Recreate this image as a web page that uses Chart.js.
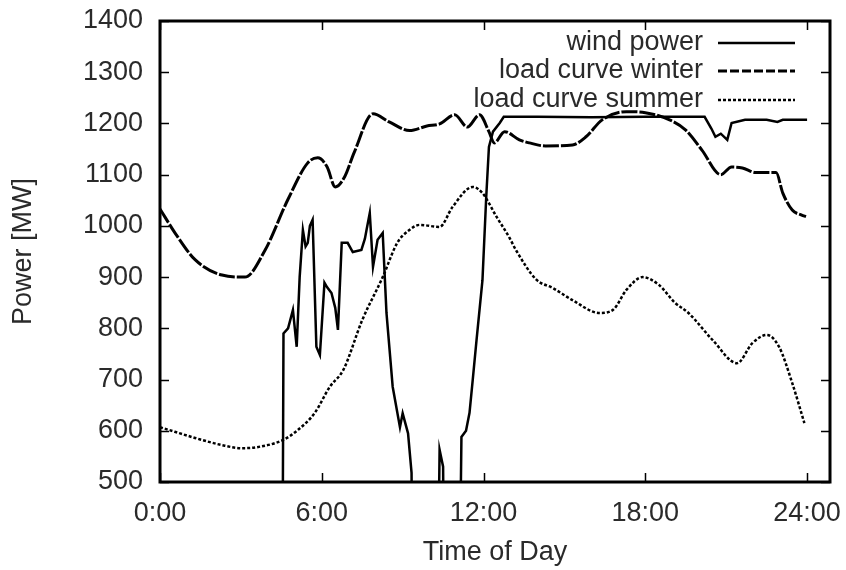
<!DOCTYPE html>
<html><head><meta charset="utf-8">
<script src="https://cdn.jsdelivr.net/npm/chart.js@4"></script>
<style>html,body{margin:0;padding:0;background:#fff;}</style>
</head><body>
<canvas id="c" width="846" height="570"></canvas>
<script>
// ---- data ----
const seriesLabels = ['wind power', 'load curve winter', 'load curve summer'];
const xTickValues = [0, 6, 12, 18, 24];
const xTickLabels = ['0:00', '6:00', '12:00', '18:00', '24:00'];
const yTickValues = [500, 600, 700, 800, 900, 1000, 1100, 1200, 1300, 1400];

const windHours = [0, 4.52, 4.58, 4.75, 4.93, 5.07, 5.18, 5.3, 5.4, 5.48, 5.56, 5.66, 5.8, 5.93, 6.1, 6.2, 6.36, 6.5, 6.6, 6.74, 6.96, 7.15, 7.47, 7.6, 7.66, 7.78, 7.9, 8.07, 8.26, 8.4, 8.63, 8.9, 9.0, 9.2, 9.33, 9.4, 10.24, 10.37, 10.5, 10.58, 11.05, 11.18, 11.35, 11.48, 11.6, 11.74, 11.96, 12.1, 12.2, 12.35, 12.6, 12.75, 14.0, 16.0, 18.0, 20.2, 20.45, 20.6, 20.8, 21.04, 21.2, 21.7, 22.5, 22.9, 23.1, 24.0];
const windMW    = [0, 0, 790, 800, 836, 764, 900, 992, 960, 967, 1000, 1012, 764, 748, 889, 880, 869, 840, 797, 967, 967, 949, 953, 975, 992, 1025, 920, 973, 986, 830, 686, 607, 634, 595, 518, 0, 0, 563, 530, 0, 0, 588, 600, 635, 700, 777, 894, 1057, 1154, 1184, 1201, 1213, 1213, 1212, 1213, 1213, 1190, 1174, 1180, 1168, 1201, 1207, 1207, 1203, 1207, 1207];

const winterHours = [0, 0.56, 1.3, 2.3, 3.15, 3.9, 4.74, 5.48, 5.85, 6.2, 6.5, 6.85, 7.2, 7.9, 8.5, 9.26, 9.9, 10.37, 10.93, 11.4, 11.85, 12.2, 12.4, 12.78, 13.33, 13.7, 14.3, 15.3, 15.8, 16.4, 17.3, 18.0, 18.9, 19.5, 20.1, 20.8, 21.2, 21.6, 22.1, 22.85, 23.1, 23.45, 23.8, 23.96];
const winterMW    = [1033, 986, 934, 904, 900, 953, 1051, 1123, 1133, 1115, 1076, 1096, 1143, 1219, 1203, 1186, 1195, 1199, 1217, 1193, 1217, 1184, 1162, 1184, 1168, 1162, 1156, 1158, 1174, 1207, 1223, 1221, 1207, 1187, 1148, 1100, 1115, 1113, 1104, 1104, 1064, 1031, 1021, 1018];

const summerHours = [0, 0.55, 1.3, 2.3, 3.04, 3.6, 4.56, 5.1, 5.74, 6.3, 6.8, 7.5, 8.26, 8.8, 9.2, 9.63, 10.37, 10.85, 11.6, 11.96, 12.48, 12.96, 13.2, 13.96, 14.56, 15.3, 16.3, 16.8, 17.3, 17.9, 18.5, 19.1, 19.6, 20.5, 21.4, 21.97, 22.5, 22.96, 23.45, 23.9];
const summerMW    = [607, 598, 586, 572, 566, 568, 582, 601, 635, 686, 719, 816, 900, 967, 990, 1002, 998, 1037, 1076, 1064, 1018, 977, 953, 895, 879, 855, 830, 836, 875, 900, 885, 850, 830, 777, 732, 771, 787, 764, 693, 615];

// ---- chart ----
const FONT = "'Liberation Sans', Arial, sans-serif";
const FSIZE = 27;
const TEXT = '#2a2a2a';
const LEGEND_DASH = [[], [9, 3], [3, 2]];
const toPts = (xs, ys) => xs.map((x, i) => ({x: x, y: ys[i]}));

const frameAndLegend = {
  id: 'frameAndLegend',
  afterDatasetsDraw(chart) {
    const ctx = chart.ctx;
    const {left, right, top, bottom} = chart.chartArea;
    const xs = chart.scales.x, ys = chart.scales.y;
    ctx.save();
    ctx.strokeStyle = '#000';
    ctx.lineWidth = 1.5;
    ctx.beginPath();
    yTickValues.forEach(v => {
      const p = Math.round(ys.getPixelForValue(v)) + 0.5;
      ctx.moveTo(left, p); ctx.lineTo(left + 9, p);
      ctx.moveTo(right, p); ctx.lineTo(right - 9, p);
    });
    xTickValues.forEach(v => {
      const p = Math.round(xs.getPixelForValue(v)) + 0.5;
      ctx.moveTo(p, bottom); ctx.lineTo(p, bottom - 9);
      ctx.moveTo(p, top); ctx.lineTo(p, top + 9);
    });
    ctx.stroke();
    ctx.lineWidth = 3;
    ctx.strokeRect(left, top, right - left, bottom - top);

    // legend (gnuplot style: text right-aligned, sample to the right)
    ctx.font = FSIZE + 'px ' + FONT;
    ctx.textAlign = 'right';
    ctx.textBaseline = 'middle';
    ctx.fillStyle = TEXT;
    const rows = [43, 71, 100];
    chart.data.datasets.forEach((ds, i) => {
      const y = rows[i];
      ctx.fillText(ds.label, 703, y);
      ctx.beginPath();
      ctx.setLineDash(LEGEND_DASH[i]);
      ctx.lineWidth = ds.borderWidth;
      ctx.strokeStyle = '#000';
      ctx.moveTo(718, y); ctx.lineTo(795, y);
      ctx.stroke();
      ctx.setLineDash([]);
    });
    ctx.restore();
  }
};

new Chart(document.getElementById('c'), {
  type: 'line',
  data: {
    datasets: [
      {label: seriesLabels[0], data: toPts(windHours, windMW), borderColor: '#000', borderWidth: 2.5, pointRadius: 0, tension: 0},
      {label: seriesLabels[1], data: toPts(winterHours, winterMW), borderColor: '#000', borderWidth: 3, borderDash: [16, 2], pointRadius: 0, cubicInterpolationMode: 'monotone'},
      {label: seriesLabels[2], data: toPts(summerHours, summerMW), borderColor: '#000', borderWidth: 2.5, borderDash: [3, 2], pointRadius: 0, cubicInterpolationMode: 'monotone'}
    ]
  },
  options: {
    responsive: false,
    animation: false,
    devicePixelRatio: 1,
    layout: {padding: {left: 0, right: 16, top: 21, bottom: 0}},
    plugins: {legend: {display: false}, tooltip: {enabled: false}},
    scales: {
      x: {
        type: 'linear', min: 0, max: 24.85,
        afterBuildTicks: s => { s.ticks = xTickValues.map(v => ({value: v})); },
        afterFit: s => { s.height = 88; s.paddingLeft = 0; s.paddingRight = 0; },
        grid: {display: false, drawTicks: false},
        border: {display: false},
        ticks: {
          padding: 15, color: TEXT, font: {family: FONT, size: FSIZE},
          maxRotation: 0, autoSkip: false,
          callback: v => xTickLabels[xTickValues.indexOf(v)]
        },
        title: {display: true, text: 'Time of Day', color: TEXT, font: {family: FONT, size: FSIZE}, padding: {top: 0, bottom: 1}}
      },
      y: {
        type: 'linear', min: 500, max: 1400,
        afterBuildTicks: s => { s.ticks = yTickValues.map(v => ({value: v})); },
        afterFit: s => { s.width = 160; s.paddingTop = 0; s.paddingBottom = 0; },
        grid: {display: false, drawTicks: false},
        border: {display: false},
        ticks: {padding: 17, color: TEXT, font: {family: FONT, size: FSIZE}, callback: v => String(v)},
        title: {display: true, text: 'Power [MW]', color: TEXT, font: {family: FONT, size: FSIZE}, padding: {top: 7, bottom: 0}}
      }
    }
  },
  plugins: [frameAndLegend]
});
</script>
</body></html>
